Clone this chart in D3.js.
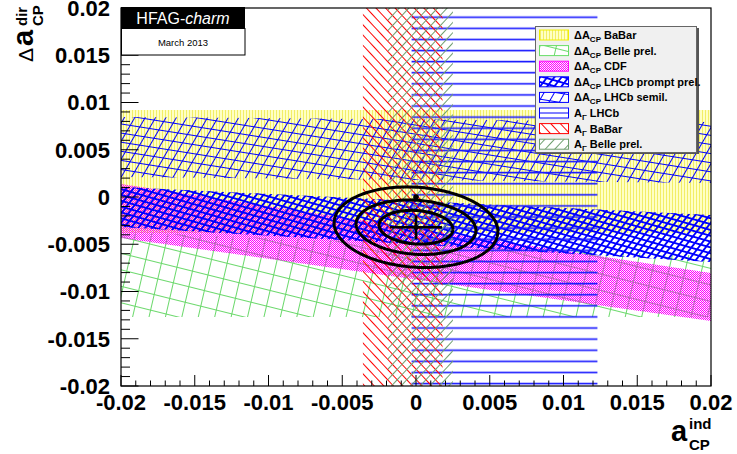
<!DOCTYPE html>
<html><head><meta charset="utf-8">
<script src="https://cdn.jsdelivr.net/npm/d3@7"></script>
<style>body{margin:0;background:#fff}svg{display:block}text{font-family:"Liberation Sans",Arial,Helvetica,sans-serif}</style>
</head><body>
<script>
// ---------- data ----------
const xDomain = [-0.02, 0.02];
const yDomain = [-0.02, 0.02];
const xTicks = [-0.02, -0.015, -0.01, -0.005, 0, 0.005, 0.01, 0.015, 0.02];
const yTicks = [-0.02, -0.015, -0.01, -0.005, 0, 0.005, 0.01, 0.015, 0.02];
const tickLabels = ["-0.02", "-0.015", "-0.01", "-0.005", "0", "0.005", "0.01", "0.015", "0.02"];
// diagonal Delta A_CP bands: [upper@left, upper@right, lower@left, lower@right] in Delta a_dir
const bandBaBar  = [0.00921, 0.00921, -0.00381, -0.00381];
const bandBelle  = [-0.0037, -0.00624, -0.0127, -0.0127];
const bandCDF    = [0.00138, -0.00804, -0.00434, -0.01312];
const bandPrompt = [0.00106, -0.00190, -0.00317, -0.00688];
const bandSemil  = [0.00847, 0.00794, 0.00212, 0.00148];
// vertical A_Gamma bands: [a_ind low, a_ind high]
const agLHCb  = [-0.0003, 0.0123];
const agBaBar = [-0.0036, 0.0018];
const agBelle = [-0.0019, 0.0025];
// fit result
const fitCenter = [0.0000, -0.0032];
const contourAx = [0.00251, 0.00407, 0.00556];
const contourAy = [0.00177, 0.00286, 0.00423];
const crossHalf = [0.00176, 0.00127];
const noCPV = [0, 0];
const legendLabels = [
  ["ΔA","CP"," BaBar"], ["ΔA","CP"," Belle prel."], ["ΔA","CP"," CDF"],
  ["ΔA","CP"," LHCb prompt prel."], ["ΔA","CP"," LHCb semil."],
  ["A","Γ"," LHCb"], ["A","Γ"," BaBar"], ["A","Γ"," Belle prel."]
];

// ---------- layout ----------
const W = 737, H = 454;
const L = 121, R = 711, T = 8, B = 386;
const svg = d3.select("body").append("svg").attr("width", W).attr("height", H);
const x = d3.scaleLinear().domain(xDomain).range([L, R]);
const y = d3.scaleLinear().domain(yDomain).range([B, T]);
const defs = svg.append("defs");

function linePat(id, color, sp, angle, w) {
  const p = defs.append("pattern").attr("id", id).attr("patternUnits", "userSpaceOnUse")
    .attr("width", 60).attr("height", sp).attr("patternTransform", `rotate(${angle})`);
  p.append("line").attr("x1", -1).attr("x2", 61).attr("y1", sp / 2).attr("y2", sp / 2)
    .attr("stroke", color).attr("stroke-width", w).attr("shape-rendering", "crispEdges");
}
// yellow vertical fine stripes
{
  const p = defs.append("pattern").attr("id", "pYel").attr("patternUnits", "userSpaceOnUse").attr("width", 3).attr("height", 4);
  p.append("rect").attr("width", 3).attr("height", 4).attr("fill", "#ffffc4");
  p.append("rect").attr("x", 0).attr("width", 1).attr("height", 4).attr("fill", "#f2ee66");
}
// magenta dots (transparent gaps)
{
  const p = defs.append("pattern").attr("id", "pMag").attr("patternUnits", "userSpaceOnUse").attr("width", 2).attr("height", 2);
  p.append("rect").attr("x", 0).attr("y", 0).attr("width", 1).attr("height", 1).attr("fill", "#ff00ff");
  p.append("rect").attr("x", 1).attr("y", 1).attr("width", 1).attr("height", 1).attr("fill", "#ff00ff");
  p.append("rect").attr("x", 1).attr("y", 0).attr("width", 1).attr("height", 1).attr("fill", "#ff00ff").attr("opacity", 0.15);
}
linePat("pGr1", "#6ad86a", 16, 14, 1);
linePat("pGr2", "#6ad86a", 16, -77, 1);
linePat("pPr1", "#0000ff", 5.6, 16, 1);
linePat("pPr2", "#0000ff", 5.6, -52, 1);
linePat("pSe1", "#0000ff", 9, 9, 1);
linePat("pSe2", "#0000ff", 9, -60, 1);
{
  const p = defs.append("pattern").attr("id", "pHor").attr("patternUnits", "userSpaceOnUse").attr("width", 40).attr("height", 11.1);
  p.append("line").attr("x1", -1).attr("x2", 41).attr("y1", 6.2).attr("y2", 6.2).attr("stroke", "#1a1aff").attr("stroke-width", 1.6);
}
linePat("pRed", "#ff0000", 7, 47, 1);
linePat("pBel", "#6f9f6f", 7, -47, 1);

defs.append("clipPath").attr("id", "frame").append("rect").attr("x", L).attr("y", T).attr("width", R - L).attr("height", B - T);
const plot = svg.append("g").attr("clip-path", "url(#frame)");

function diagBand(b, fills) {
  const pts = [[xDomain[0], b[0]], [xDomain[1], b[1]], [xDomain[1], b[3]], [xDomain[0], b[2]]];
  const d = "M" + pts.map(p => [x(p[0]), y(p[1])].join(",")).join("L") + "Z";
  fills.forEach(f => plot.append("path").attr("d", d).attr("fill", f));
}
function vertBand(b, fills) {
  fills.forEach(f => plot.append("rect").attr("x", x(b[0])).attr("width", x(b[1]) - x(b[0]))
    .attr("y", y(yDomain[1])).attr("height", y(yDomain[0]) - y(yDomain[1])).attr("fill", f));
}
diagBand(bandBaBar, ["url(#pYel)"]);
diagBand(bandBelle, ["url(#pGr1)", "url(#pGr2)"]);
diagBand(bandCDF, ["url(#pMag)"]);
diagBand(bandPrompt, ["url(#pPr1)", "url(#pPr2)"]);
diagBand(bandSemil, ["url(#pSe1)", "url(#pSe2)"]);
vertBand(agLHCb, ["url(#pHor)"]);
vertBand(agBaBar, ["url(#pRed)"]);
vertBand(agBelle, ["url(#pBel)"]);

// contours
const cx = x(fitCenter[0]), cy = y(fitCenter[1]);
const ell = plot.append("g").attr("transform", `rotate(4,${cx},${cy})`);
const steps = d3.range(0, 2 * Math.PI + 0.001, Math.PI / 90);
contourAx.forEach((ax, i) => {
  const ay = contourAy[i];
  const line = d3.line().x(t => x(fitCenter[0] + ax * Math.cos(t))).y(t => y(fitCenter[1] + ay * Math.sin(t)));
  ell.append("path").attr("d", line(steps)).attr("fill", "none").attr("stroke", "#000").attr("stroke-width", 3);
});
plot.append("line").attr("x1", x(fitCenter[0] - crossHalf[0])).attr("x2", x(fitCenter[0] + crossHalf[0]))
  .attr("y1", cy).attr("y2", cy).attr("stroke", "#000").attr("stroke-width", 2.5);
plot.append("line").attr("x1", cx).attr("x2", cx).attr("y1", y(fitCenter[1] - crossHalf[1]))
  .attr("y2", y(fitCenter[1] + crossHalf[1])).attr("stroke", "#000").attr("stroke-width", 2.5);
plot.append("circle").attr("cx", cx).attr("cy", cy).attr("r", 2.5).attr("fill", "#000");
plot.append("circle").attr("cx", x(noCPV[0])).attr("cy", y(noCPV[1])).attr("r", 2.8).attr("fill", "#000");

// axes
const xMinor = d3.range(-0.02, 0.02001, 0.001);
const yMinor = d3.range(-0.02, 0.02001, 0.001);
const ax = svg.append("g");
xMinor.forEach((v, i) => {
  const major = i % 5 === 0;
  ax.append("line").attr("x1", x(v)).attr("x2", x(v)).attr("y1", B).attr("y2", B - (major ? 11 : 5.5)).attr("stroke", "#000").attr("stroke-width", 1);
});
yMinor.forEach((v, i) => {
  const major = i % 5 === 0;
  ax.append("line").attr("y1", y(v)).attr("y2", y(v)).attr("x1", L).attr("x2", L + (major ? 17.5 : 9)).attr("stroke", "#000").attr("stroke-width", 1);
});
svg.append("rect").attr("x", L).attr("y", T).attr("width", R - L).attr("height", B - T).attr("fill", "none").attr("stroke", "#000").attr("stroke-width", 1.2);

xTicks.forEach((v, i) => svg.append("text").attr("x", x(v)).attr("y", 410).attr("text-anchor", "middle")
  .attr("font-size", 22).attr("font-weight", "bold").text(tickLabels[i]));
yTicks.forEach((v, i) => svg.append("text").attr("x", 110).attr("y", y(v)).attr("dy", "0.36em").attr("text-anchor", "end")
  .attr("font-size", 22).attr("font-weight", "bold").text(tickLabels[i]));

// axis titles
const yt = svg.append("g").attr("transform", "translate(33,64) rotate(-90)");
yt.append("text").attr("x", 2).attr("y", 0).attr("font-size", 21).text("Δ");
yt.append("text").attr("x", 18).attr("y", 0).attr("font-size", 29).attr("font-weight", "bold").text("a");
yt.append("text").attr("x", 38).attr("y", -6).attr("font-size", 15).attr("font-weight", "bold").text("dir");
yt.append("text").attr("x", 38).attr("y", 10).attr("font-size", 15).attr("font-weight", "bold").text("CP");
svg.append("text").attr("x", 671).attr("y", 441).attr("font-size", 29).attr("font-weight", "bold").text("a");
svg.append("text").attr("x", 689).attr("y", 429).attr("font-size", 15).attr("font-weight", "bold").text("ind");
svg.append("text").attr("x", 689).attr("y", 450).attr("font-size", 15).attr("font-weight", "bold").text("CP");

// HFAG box
svg.append("rect").attr("x", 121).attr("y", 7).attr("width", 124).attr("height", 21.5).attr("fill", "#000");
const ht = svg.append("text").attr("x", 183).attr("y", 24).attr("text-anchor", "middle").attr("font-size", 16).attr("fill", "#fff");
ht.append("tspan").text("HFAG-");
ht.append("tspan").attr("font-style", "italic").text("charm");
svg.append("rect").attr("x", 121.5).attr("y", 28.5).attr("width", 123.5).attr("height", 26.5).attr("fill", "#fff").attr("stroke", "#000").attr("stroke-width", 1);
svg.append("text").attr("x", 183).attr("y", 46).attr("text-anchor", "middle").attr("font-size", 9.5).text("March 2013");

// legend
const lg = svg.append("g");
lg.append("rect").attr("x", 537).attr("y", 28).attr("width", 162).attr("height", 126).attr("fill", "#555");
lg.append("rect").attr("x", 535.5).attr("y", 26.5).attr("width", 161).attr("height", 126).attr("fill", "#f0f0f0").attr("stroke", "#666").attr("stroke-width", 1);
const swFills = [["url(#pYel)"], ["url(#pGr1)", "url(#pGr2)"], ["url(#pMag)"], ["url(#pPr1)", "url(#pPr2)"],
  ["url(#pSe1)", "url(#pSe2)"], ["#fff"], ["url(#pRed)"], ["url(#pBel)"]];
const swStroke = ["#f0f000", "#66dd66", "#ff00ff", "#0000ff", "#0000ff", "#0000ff", "#ff0000", "#6f9f6f"];
legendLabels.forEach((lab, i) => {
  const yc = 35 + i * 15.6;
  const sw = lg.append("g");
  sw.append("rect").attr("x", 539.5).attr("y", yc - 5).attr("width", 29).attr("height", 10).attr("fill", "#fff");
  swFills[i].forEach(f => sw.append("rect").attr("x", 539.5).attr("y", yc - 5).attr("width", 29).attr("height", 10).attr("fill", f));
  if (i === 5) sw.append("line").attr("x1", 539.5).attr("x2", 568.5).attr("y1", yc).attr("y2", yc).attr("stroke", "#0000ff").attr("stroke-width", 1);
  sw.append("rect").attr("x", 539.5).attr("y", yc - 5).attr("width", 29).attr("height", 10).attr("fill", "none").attr("stroke", swStroke[i]).attr("stroke-width", 1);
  const t = lg.append("text").attr("x", 574).attr("y", yc + 4).attr("font-size", 11).attr("font-weight", "bold");
  t.append("tspan").text(lab[0]);
  t.append("tspan").attr("font-size", 8).attr("dy", 3).text(lab[1]);
  t.append("tspan").attr("dy", -3).text(lab[2]);
});
</script>
</body></html>
